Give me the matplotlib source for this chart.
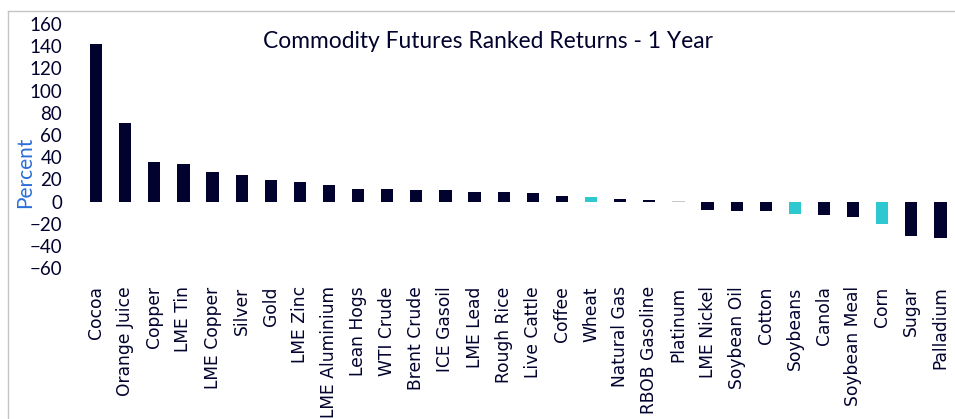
import matplotlib.pyplot as plt
from matplotlib.lines import Line2D

names = ['Cocoa', 'Orange Juice', 'Copper', 'LME Tin', 'LME Copper', 'Silver',
         'Gold', 'LME Zinc', 'LME Aluminium', 'Lean Hogs', 'WTI Crude',
         'Brent Crude', 'ICE Gasoil', 'LME Lead', 'Rough Rice', 'Live Cattle',
         'Coffee', 'Wheat', 'Natural Gas', 'RBOB Gasoline', 'Platinum',
         'LME Nickel', 'Soybean Oil', 'Cotton', 'Soybeans', 'Canola',
         'Soybean Meal', 'Corn', 'Sugar', 'Palladium']

returns = [141.8, 70.6, 35.5, 34.2, 26.5, 24.3, 19.3, 17.7, 14.7, 11.7, 11.4,
           10.5, 10.2, 9.0, 8.5, 8.2, 5.4, 4.2, 2.1, 1.2, 0.5,
           -7.8, -8.4, -8.7, -11.0, -11.7, -13.5, -20.4, -30.9, -32.7]

navy = '#02022e'
teal = '#2ec9d0'
grey = '#c8c8c8'
highlight = {'Wheat': teal, 'Soybeans': teal, 'Corn': teal, 'Platinum': grey}
colors = [highlight.get(n, navy) for n in names]

fig = plt.figure(figsize=(9.55, 4.19), dpi=100)
ax = fig.add_axes([81.5 / 955, 1 - 268.3 / 419, 1 - 81.5 / 955, (268.3 - 24) / 419])

x = range(len(names))
ax.bar(x, returns, width=0.42, color=colors)

ax.set_xlim(-0.5, len(names) - 0.5)
ax.set_ylim(-60, 160)
ax.set_yticks(range(-60, 161, 20))
ax.set_xticks(list(x))
ax.set_xticklabels(names, rotation=90, fontsize=12.3, color=navy, family='DejaVu Sans')
ax.tick_params(axis='both', length=0, colors=navy)
ax.tick_params(axis='y', labelsize=13.5, pad=14)
for lbl in ax.get_yticklabels():
    lbl.set_family('Lato')
ax.tick_params(axis='x', pad=13)
for s in ax.spines.values():
    s.set_visible(False)

fig.text(25 / 955, 1 - 172 / 419, 'Percent', rotation=90, ha='center', va='center',
         fontsize=15, color='#2a6fd8', family='Lato')
fig.text(488 / 955, 1 - 41 / 419, 'Commodity Futures Ranked Returns - 1 Year',
         ha='center', va='center', fontsize=16.4, color=navy, family='Lato')

# light frame around the chart
fig.add_artist(Line2D([7.5 / 955, 1], [1 - 11 / 419] * 2, color='#c4c4c4', lw=1))
fig.add_artist(Line2D([7.5 / 955] * 2, [0, 1 - 11 / 419], color='#c4c4c4', lw=1))

fig.savefig('out.png', dpi=100)
